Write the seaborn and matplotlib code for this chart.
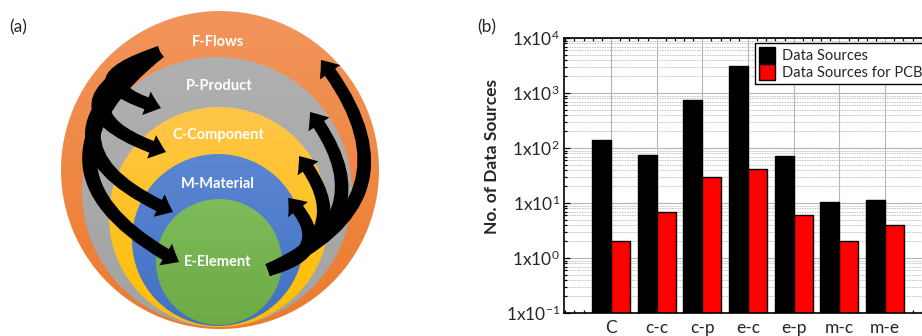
import numpy as np
import matplotlib
matplotlib.use("Agg")
import matplotlib.pyplot as plt
import seaborn as sns
import pandas as pd
from matplotlib.patches import Circle, FancyArrowPatch, ArrowStyle
from matplotlib.colors import to_rgb
from matplotlib.ticker import MultipleLocator, LogLocator, NullFormatter, FixedLocator

# ---------------- data ----------------
categories = ["C", "c-c", "c-p", "e-c", "e-p", "m-c", "m-e"]
data_sources = [140, 76, 750, 3100, 73, 10.3, 11.2]
data_sources_pcb = [2, 7, 30, 42, 6, 2, 4]
series_names = ["Data Sources", "Data Sources for PCB"]
series_colors = ["#000000", "#ff0000"]
ytick_values = [0.1, 1, 10, 100, 1000, 10000]
ytick_labels = [r"1x10$^{-1}$", r"1x10$^{0}$", r"1x10$^{1}$",
                r"1x10$^{2}$", r"1x10$^{3}$", r"1x10$^{4}$"]
layer_labels = ["F-Flows", "P-Product", "C-Component", "M-Material", "E-Element"]

# ---------------- style ----------------
sns.set_theme(style="white")
plt.rcParams['font.family'] = ['Lato', 'DejaVu Sans']
plt.rcParams['mathtext.fontset'] = 'custom'
plt.rcParams['mathtext.rm'] = 'Lato'
plt.rcParams['mathtext.it'] = 'Lato:italic'
plt.rcParams['mathtext.bf'] = 'Lato:bold'

fig = plt.figure(figsize=(9.22, 3.36), dpi=100)

# ---------------- panel (a): nested circles diagram ----------------
axA = fig.add_axes([0, 0, 460 / 922, 1])


def grad_circle(ax, cx, cy, r, top, bot, z):
    g = np.linspace(0, 1, 256)[:, None, None]
    t = np.array(to_rgb(top))[None, None, :]
    b = np.array(to_rgb(bot))[None, None, :]
    img = t * (1 - g) + b * g
    im = ax.imshow(img, extent=[cx - r, cx + r, cy + r, cy - r], aspect='auto',
                   zorder=z, interpolation='bilinear')
    circ = Circle((cx, cy), r, transform=ax.transData, facecolor='none',
                  edgecolor='none')
    ax.add_patch(circ)
    im.set_clip_path(circ)


layers = [
    # cx, cy, r, top colour, bottom colour
    (220, 170, 159, "#f2955c", "#ec7a2c"),
    (217, 192, 135, "#b0b0b0", "#a3a3a3"),
    (219, 217, 110, "#ffc64a", "#ffbf00"),
    (218, 240, 86, "#5b86d2", "#4271c4"),
    (219, 262, 63, "#7ebb5a", "#6dab45"),
]
for i, (cx, cy, r, c1, c2) in enumerate(layers):
    grad_circle(axA, cx, cy, r, c1, c2, 1 + i)

label_pos = [(218, 42), (219, 86), (218, 135), (218, 184), (218, 262)]
for (x, y), t in zip(label_pos, layer_labels):
    axA.text(x, y, t, color="white", fontsize=10.5, fontweight="bold",
             ha="center", va="center", zorder=20)

style = ArrowStyle.Simple(head_length=11, head_width=18, tail_width=9)
left_arrows = [((160, 52), (161, 108), 1.6),
               ((160, 52), (166, 152), 1.25),
               ((160, 52), (173, 212), 0.92),
               ((160, 52), (179, 262), 0.76)]
right_arrows = [((268, 270), (321, 60), 0.64),
                ((268, 270), (310, 112), 0.64),
                ((268, 270), (299, 156), 0.68),
                ((268, 270), (288, 198), 0.85)]
for pa, pb, rad in left_arrows + right_arrows:
    axA.add_patch(FancyArrowPatch(pa, pb, arrowstyle=style,
                                  connectionstyle=f"arc3,rad={rad}",
                                  mutation_scale=1, color="black", lw=0,
                                  shrinkA=0, shrinkB=0, zorder=15))

axA.set_xlim(0, 460)
axA.set_ylim(336, 0)
axA.axis('off')

# ---------------- panel (b): bar chart ----------------
axB = fig.add_axes([564 / 922, 23 / 336, (950 - 564) / 922, 275 / 336])
df = pd.DataFrame({
    "category": categories * 2,
    "value": data_sources + data_sources_pcb,
    "series": [series_names[0]] * len(categories) + [series_names[1]] * len(categories),
})
sns.barplot(data=df, x="category", y="value", hue="series",
            palette=series_colors, width=0.83, edgecolor="black",
            linewidth=1.0, ax=axB, saturation=1)
axB.set_yscale('log')

axB.set_ylim(0.1, 10000)
axB.set_xlim(-1.028, 7.42)
axB.set_axisbelow(True)
axB.yaxis.set_major_locator(FixedLocator(ytick_values))
axB.set_yticklabels(ytick_labels, fontsize=12.5)
axB.yaxis.set_minor_locator(LogLocator(base=10, subs=np.arange(2, 10)))
axB.yaxis.set_minor_formatter(NullFormatter())
axB.set_xticks(range(len(categories)))
axB.set_xticklabels(categories, fontsize=12.5)
axB.xaxis.set_minor_locator(MultipleLocator(0.2))
axB.tick_params(which='both', direction='in', top=True, bottom=True,
                left=True, right=False, color='black', width=0.9)
axB.tick_params(which='major', length=4, pad=3)
axB.tick_params(axis='x', which='major', pad=5, length=0)
axB.tick_params(which='minor', length=2.5)
axB.grid(True, which='major', axis='both', color='#b5b5b5', lw=0.8)
axB.grid(True, which='minor', axis='y', color='#c0c0c0', lw=0.6,
         ls=(0, (2, 1)))
for s in ['left', 'bottom', 'top']:
    axB.spines[s].set_visible(True)
    axB.spines[s].set_color('black')
    axB.spines[s].set_linewidth(1.2)
axB.spines['right'].set_visible(False)
axB.set_xlabel("")
axB.set_ylabel("")
fig.text(492 / 922, (336 - 156) / 336, "No. of Data Sources", rotation=90,
         fontsize=12.5, fontweight="bold", ha="center", va="center")

handles, labels = axB.get_legend_handles_labels()
if axB.get_legend() is not None:
    axB.get_legend().remove()
leg = axB.legend(handles, labels, loc='upper left',
                 bbox_to_anchor=(755 / 922, 293 / 336),
                 bbox_transform=fig.transFigure, frameon=True, fancybox=False,
                 edgecolor='black', framealpha=1, fontsize=10.5,
                 handlelength=1.1, handleheight=1.35, borderpad=0.25,
                 labelspacing=0.05, handletextpad=0.5, borderaxespad=0)
leg.get_frame().set_linewidth(1.0)

fig.text(9 / 922, (336 - 27) / 336, "(a)", fontsize=12.5, va="center")
fig.text(477 / 922, (336 - 27) / 336, "(b)", fontsize=12.5, va="center")

fig.savefig("out.png", dpi=100)
